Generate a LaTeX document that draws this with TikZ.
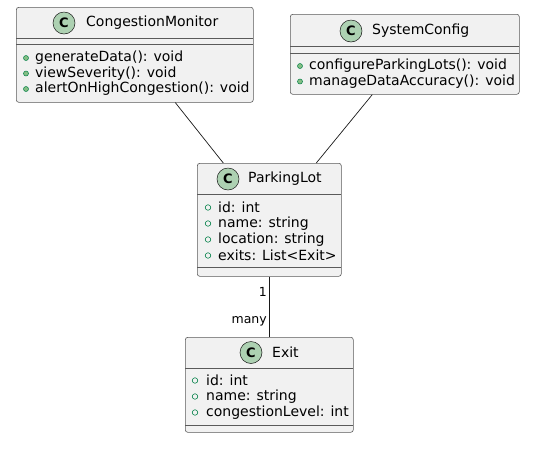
\documentclass[tikz,border=0pt]{standalone}
\usepackage{fontspec}
\setmainfont{DejaVu Sans}
\definecolor{boxfill}{HTML}{F1F1F1}
\definecolor{boxline}{HTML}{181818}
\definecolor{sepcol}{HTML}{5A5A5A}
\definecolor{iconfill}{HTML}{ADD1B2}
\definecolor{visline}{HTML}{038048}
\definecolor{visfill}{HTML}{84BE84}
\tikzset{
  classbox/.style={draw=sepcol, fill=boxfill, line width=0.6pt, rounded corners=2.5pt, anchor=north west, inner sep=0pt},
  sepline/.style={draw=sepcol, line width=0.6pt},
  cicon/.style={circle, draw=boxline, fill=iconfill, line width=0.5pt, minimum size=22pt, inner sep=0pt, font=\fontsize{13}{13}\selectfont\bfseries},
  cname/.style={anchor=west, inner sep=0pt, font=\fontsize{14}{16}\selectfont},
  member/.style={anchor=west, inner sep=0pt, font=\fontsize{14}{16}\selectfont},
  methdot/.style={circle, draw=visline, fill=visfill, line width=0.5pt, minimum size=5pt, inner sep=0pt},
  fielddot/.style={circle, draw=visline, fill=none, line width=0.6pt, minimum size=5.5pt, inner sep=0pt},
  assoc/.style={draw=boxline, line width=0.7pt},
  mult/.style={anchor=east, inner sep=0pt, font=\fontsize{12.5}{14}\selectfont},
}
\begin{document}
\begin{tikzpicture}[x=1pt, y=-1pt]
\useasboundingbox (0,0) rectangle (539,451);
% CongestionMonitor
\node[classbox, minimum width=237pt, minimum height=95pt] (cm) at (16,7) {};
\draw[sepline] (16,38.5) -- (253,38.5);
\draw[sepline] (16,44.5) -- (253,44.5);
\node[cicon] (cmi) at (64,23) {C};
\node[cname] (cmn) at (86,23) {CongestionMonitor};
\node[methdot] (cmd1) at (26,58) {};
\node[member] (cmm1) at (35,58) {generateData(): void};
\node[methdot] (cmd2) at (26,73.5) {};
\node[member] (cmm2) at (35,73.5) {viewSeverity(): void};
\node[methdot] (cmd3) at (26,89) {};
\node[member] (cmm3) at (35,89) {alertOnHighCongestion(): void};
% SystemConfig
\node[classbox, minimum width=229pt, minimum height=80pt] (sc) at (290,14) {};
\draw[sepline] (290,46.5) -- (519,46.5);
\draw[sepline] (290,53) -- (519,53);
\node[cicon] (sci) at (351,31) {C};
\node[cname] (scn) at (372,31) {SystemConfig};
\node[methdot] (scd1) at (300,66) {};
\node[member] (scm1) at (309,66) {configureParkingLots(): void};
\node[methdot] (scd2) at (300,81.5) {};
\node[member] (scm2) at (309,81.5) {manageDataAccuracy(): void};
% ParkingLot
\node[classbox, minimum width=144pt, minimum height=113pt] (pl) at (197,163) {};
\draw[sepline] (197,194) -- (341,194);
\draw[sepline] (197,267) -- (341,267);
\node[cicon] (pli) at (228,179) {C};
\node[cname] (pln) at (248,179) {ParkingLot};
\node[fielddot] (pld1) at (208,207.5) {};
\node[member] (plf1) at (218,207.5) {id: int};
\node[fielddot] (pld2) at (208,223.5) {};
\node[member] (plf2) at (218,223.5) {name: string};
\node[fielddot] (pld3) at (208,239.5) {};
\node[member] (plf3) at (218,239.5) {location: string};
\node[fielddot] (pld4) at (208,255.5) {};
\node[member] (plf4) at (218,255.5) {exits: List<Exit>};
% Exit
\node[classbox, minimum width=168pt, minimum height=95pt] (ex) at (185,337) {};
\draw[sepline] (185,368) -- (353,368);
\draw[sepline] (185,425) -- (353,425);
\node[cicon] (exi) at (251,352.5) {C};
\node[cname] (exn) at (272,352.5) {Exit};
\node[fielddot] (exd1) at (195,380.5) {};
\node[member] (exf1) at (206,380.5) {id: int};
\node[fielddot] (exd2) at (195,396.5) {};
\node[member] (exf2) at (206,396.5) {name: string};
\node[fielddot] (exd3) at (195,412.5) {};
\node[member] (exf3) at (206,412.5) {congestionLevel: int};
% connectors
\draw[assoc] ([xshift=40.5pt]cm.south) -- ([xshift=-46pt]pl.north);
\draw[assoc] ([xshift=-32.5pt]sc.south) -- ([xshift=47pt]pl.north);
\draw[assoc] (pl.south) -- (ex.north);
\node[mult] (m1) at (267,292) {1};
\node[mult] (m2) at (267,321) {many};
\end{tikzpicture}
\end{document}
